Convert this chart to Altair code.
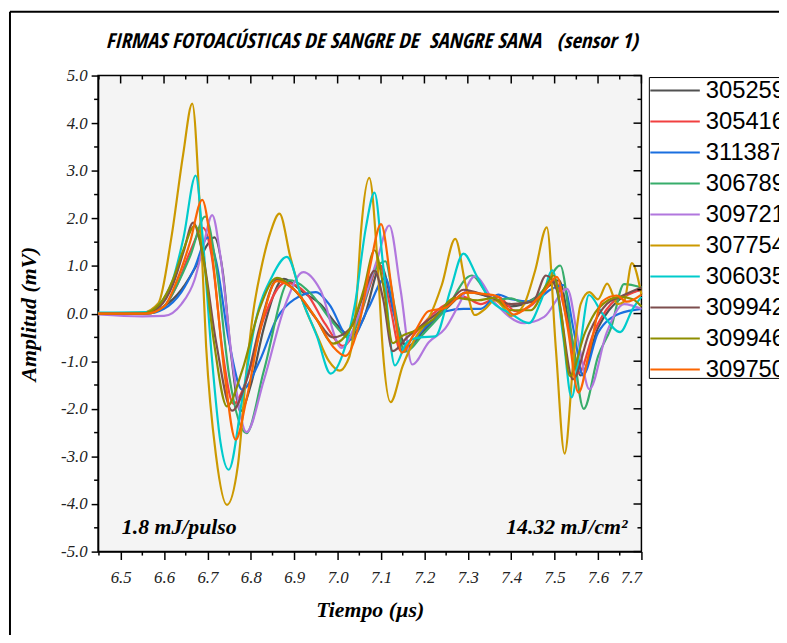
import altair as alt
import pandas as pd

series = ["305259", "305416", "311387", "306789", "309721",
          "307754", "306035", "309942", "309946", "309750"]
colors = ["#515151", "#F14040", "#1A6FDF", "#37AD6B", "#B177DE",
          "#CC9900", "#00CBCC", "#7D4E4E", "#8E8E00", "#FB6501"]

t_305259 = [6.448, 6.55, 6.60, 6.64, 6.68, 6.70, 6.716, 6.735, 6.755, 6.776, 6.80, 6.83, 6.876, 6.92, 6.96, 7.00, 7.03, 7.06, 7.10, 7.13, 7.16, 7.20, 7.25, 7.30, 7.35, 7.40, 7.45, 7.49, 7.51, 7.535, 7.56, 7.60, 7.65, 7.70]
v_305259 = [0, 0, 0.15, 0.5, 1.1, 1.45, 1.6, 0.9, -0.9, -2.05, -1.5, -0.3, 0.73, 0.45, 0.2, -0.25, -0.48, -0.1, 1.0, 0.0, -0.7, -0.35, 0.1, 0.45, 0.35, 0.15, 0.3, 0.6, 0.7, -0.3, -1.3, -0.3, 0.3, 0.5]

t_305416 = [6.448, 6.56, 6.60, 6.63, 6.66, 6.69, 6.71, 6.735, 6.76, 6.79, 6.83, 6.88, 6.93, 6.97, 7.013, 7.05, 7.075, 7.095, 7.12, 7.145, 7.18, 7.22, 7.26, 7.29, 7.33, 7.37, 7.41, 7.45, 7.48, 7.50, 7.53, 7.555, 7.59, 7.63, 7.67, 7.70]
v_305416 = [0, 0, 0.15, 0.6, 1.3, 1.8, 1.2, -0.8, -1.9, -1.4, -0.1, 0.65, 0.4, -0.2, -0.68, -0.1, 0.6, 1.05, 0.2, -0.78, -0.4, 0.0, 0.25, 0.35, 0.2, 0.35, 0.05, 0.2, 0.55, 0.7, -0.2, -1.25, -0.4, 0.2, 0.4, 0.5]

t_311387 = [6.448, 6.56, 6.60, 6.64, 6.67, 6.701, 6.72, 6.75, 6.78, 6.82, 6.86, 6.90, 6.95, 6.98, 7.03, 7.07, 7.11, 7.13, 7.15, 7.20, 7.25, 7.29, 7.33, 7.37, 7.40, 7.45, 7.49, 7.52, 7.545, 7.565, 7.60, 7.65, 7.70]
v_311387 = [0, 0, 0.1, 0.45, 0.95, 1.6, 1.1, -0.6, -1.6, -1.0, -0.1, 0.3, 0.45, 0.2, -0.55, 0.1, 0.75, 0.0, -0.8, -0.3, 0.05, 0.1, 0.1, 0.4, 0.3, 0.25, 0.5, 0.6, -0.4, -1.3, -0.4, 0.0, 0.1]

t_306789 = [6.448, 6.56, 6.60, 6.63, 6.66, 6.695, 6.72, 6.75, 6.79, 6.83, 6.89, 6.94, 6.99, 7.026, 7.06, 7.085, 7.11, 7.13, 7.155, 7.20, 7.25, 7.309, 7.36, 7.40, 7.43, 7.47, 7.513, 7.54, 7.567, 7.60, 7.63, 7.66, 7.70]
v_306789 = [0, 0, 0.15, 0.6, 1.2, 2.04, 1.0, -1.3, -2.51, -1.2, 0.7, 0.4, -0.2, -0.51, 0.2, 0.9, 1.1, 0.2, -0.8, -0.4, 0.1, 0.8, 0.28, 0.32, 0.22, 0.45, 1.01, -0.5, -2.0, -0.9, -0.3, 0.62, 0.55]

t_309721 = [6.448, 6.55, 6.60, 6.64, 6.67, 6.69, 6.711, 6.73, 6.76, 6.79, 6.83, 6.88, 6.921, 6.96, 7.009, 7.05, 7.09, 7.119, 7.145, 7.172, 7.21, 7.248, 7.28, 7.316, 7.362, 7.43, 7.476, 7.529, 7.555, 7.58, 7.62, 7.66, 7.70]
v_309721 = [-0.02, -0.06, -0.05, 0.2, 0.7, 1.4, 2.07, 1.2, -1.2, -2.49, -1.4, 0.2, 0.87, 0.5, -0.72, 0.0, 1.1, 1.85, 0.5, -1.07, -0.6, -0.31, 0.2, 0.78, 0.23, -0.2, -0.07, 0.52, -0.6, -1.59, -0.4, 0.2, 0.1]

t_307754 = [6.448, 6.55, 6.587, 6.617, 6.644, 6.665, 6.682, 6.697, 6.72, 6.745, 6.77, 6.79, 6.805, 6.823, 6.845, 6.866, 6.891, 6.921, 6.95, 6.98, 7.005, 7.02, 7.031, 7.043, 7.054, 7.073, 7.093, 7.104, 7.122, 7.15, 7.18, 7.21, 7.24, 7.271, 7.295, 7.316, 7.34, 7.362, 7.38, 7.40, 7.43, 7.455, 7.482, 7.503, 7.523, 7.545, 7.56, 7.58, 7.60, 7.621, 7.645, 7.66, 7.678, 7.70]
v_307754 = [0, 0.02, 0.22, 1.6, 3.34, 4.41, 2.3, -0.69, -3.0, -4.02, -3.2, -1.2, 0.0, 0.91, 1.7, 2.1, 1.19, 0.22, -0.4, -1.0, -1.2, -1.05, -0.76, 0.2, 1.74, 2.85, 0.91, -0.76, -1.86, -1.1, -0.5, -0.1, 0.6, 1.57, 0.6, -0.03, 0.1, 0.28, 0.15, -0.05, 0.2, 0.9, 1.81, -0.76, -2.94, -0.8, 0.2, 0.45, 0.3, 0.63, 0.2, 0.25, 1.06, 0.4]

t_306035 = [6.448, 6.56, 6.59, 6.62, 6.645, 6.673, 6.689, 6.71, 6.73, 6.749, 6.78, 6.81, 6.85, 6.883, 6.921, 6.952, 6.984, 7.01, 7.04, 7.065, 7.085, 7.105, 7.132, 7.16, 7.19, 7.225, 7.26, 7.29, 7.32, 7.35, 7.399, 7.441, 7.47, 7.495, 7.52, 7.539, 7.56, 7.579, 7.61, 7.651, 7.68, 7.70]
v_306035 = [0.02, 0.03, 0.2, 0.7, 1.6, 2.9, 1.6, -0.9, -2.7, -3.28, -1.8, -0.2, 0.8, 1.19, 0.22, -0.47, -1.26, -0.9, 0.2, 1.8, 2.54, 1.0, -1.09, -0.6, -0.5, -0.48, 0.5, 1.26, 0.8, 0.31, 0.0, -0.2, 0.3, 0.91, -0.5, -1.76, -0.6, 0.39, 0.0, -0.39, 0.1, 0.35]

t_309942 = [6.448, 6.55, 6.59, 6.62, 6.645, 6.667, 6.69, 6.72, 6.757, 6.79, 6.82, 6.861, 6.90, 6.95, 6.99, 7.03, 7.06, 7.085, 7.105, 7.127, 7.16, 7.20, 7.25, 7.29, 7.35, 7.40, 7.45, 7.48, 7.505, 7.542, 7.58, 7.62, 7.65, 7.70]
v_309942 = [0, 0.0, 0.15, 0.6, 1.3, 1.91, 1.2, -0.6, -2.04, -1.4, -0.3, 0.72, 0.5, -0.1, -0.5, -0.3, 0.4, 0.9, 0.3, -0.79, -0.5, -0.2, 0.15, 0.5, 0.35, 0.2, 0.25, 0.8, 0.5, -1.38, -0.4, 0.2, 0.35, 0.55]

t_309946 = [6.448, 6.55, 6.59, 6.62, 6.645, 6.671, 6.69, 6.715, 6.745, 6.78, 6.82, 6.86, 6.90, 6.95, 6.99, 7.03, 7.06, 7.085, 7.105, 7.127, 7.147, 7.181, 7.22, 7.271, 7.323, 7.36, 7.399, 7.445, 7.483, 7.498, 7.515, 7.535, 7.57, 7.60, 7.65, 7.68, 7.70]
v_309946 = [0, 0.0, 0.2, 0.7, 1.35, 1.85, 1.2, -0.6, -1.95, -1.2, 0.1, 0.75, 0.5, -0.1, -0.63, -0.3, 0.5, 1.33, 0.6, -0.62, -0.48, -0.35, -0.12, 0.33, 0.28, 0.33, 0.07, 0.07, 0.63, 0.8, 0.0, -1.31, -0.4, 0.1, 0.35, 0.3, 0.15]

t_309750 = [6.448, 6.56, 6.60, 6.63, 6.66, 6.688, 6.71, 6.74, 6.765, 6.79, 6.82, 6.86, 6.90, 6.95, 6.99, 7.018, 7.05, 7.075, 7.10, 7.125, 7.148, 7.18, 7.209, 7.248, 7.295, 7.34, 7.367, 7.406, 7.444, 7.475, 7.505, 7.53, 7.555, 7.58, 7.609, 7.643, 7.666, 7.70]
v_309750 = [0, 0, 0.15, 0.7, 1.5, 2.39, 1.3, -1.3, -2.65, -1.8, -0.4, 0.68, 0.5, -0.1, -0.7, -0.89, -0.2, 1.0, 1.88, 0.5, -0.82, -0.35, 0.05, 0.12, 0.44, 0.41, 0.37, -0.02, 0.18, 0.45, 0.77, -0.3, -1.66, -0.8, 0.25, 0.38, 0.25, 0.4]

x_major = [6.5, 6.6, 6.7, 6.8, 6.9, 7.0, 7.1, 7.2, 7.3, 7.4, 7.5, 7.6, 7.7]
x_minor = [6.45, 6.55, 6.65, 6.75, 6.85, 6.95, 7.05, 7.15, 7.25, 7.35, 7.45, 7.55, 7.65]
y_major = [-5, -4, -3, -2, -1, 0, 1, 2, 3, 4, 5]
y_minor = [-4.5, -3.5, -2.5, -1.5, -0.5, 0.5, 1.5, 2.5, 3.5, 4.5]

title_text = "FIRMAS FOTOACÚSTICAS DE SANGRE DE \u00a0SANGRE SANA \u00a0 (sensor 1)"
x_title = "Tiempo (µs)"
y_title = "Amplitud (mV)"
note_left = "1.8 mJ/pulso"
note_right = "14.32 mJ/cm\u00b2"

times = {s: globals()["t_" + s] for s in series}
vals = {s: globals()["v_" + s] for s in series}
rows = []
for s in series:
    for t, v in zip(times[s], vals[s]):
        rows.append({"t": t, "v": v, "muestra": s})
df = pd.DataFrame(rows)

W, H = 549, 481
xs = alt.Scale(domain=[6.448, 7.7], nice=False, zero=False)
ys = alt.Scale(domain=[-5, 5], nice=False)
serif = "Liberation Serif"

ax_x = alt.Axis(values=x_major, format=".1f", title=x_title,
                labelFont=serif, labelFontStyle="italic", labelFontSize=17,
                labelColor="#222", tickSize=8, tickWidth=1.5, tickColor="black",
                domainColor="black", domainWidth=1.5, labelPadding=10,
                titleFont=serif, titleFontStyle="italic", titleFontWeight="bold",
                titleFontSize=22, titlePadding=15, titleColor="black", grid=False)
ax_y = alt.Axis(values=y_major, title=y_title,
                labelExpr="replace(format(datum.value, '.1f'), '\u2212', '-')",
                labelFont=serif, labelFontStyle="italic", labelFontSize=17,
                labelColor="#222", tickSize=7, tickWidth=1.5, tickColor="black",
                domainColor="black", domainWidth=1.5, labelPadding=4,
                titleFont=serif, titleFontStyle="italic", titleFontWeight="bold",
                titleFontSize=22, titlePadding=20, titleColor="black", grid=False)

lines = alt.Chart(df).mark_line(interpolate="monotone", strokeWidth=2.2).encode(
    x=alt.X("t:Q", scale=xs, axis=ax_x),
    y=alt.Y("v:Q", scale=ys, axis=ax_y),
    color=alt.Color("muestra:N", sort=series,
                    scale=alt.Scale(domain=series, range=colors), legend=None),
)

dxM = pd.DataFrame({"t": x_major})
dxm = pd.DataFrame({"t": x_minor})
dyM = pd.DataFrame({"v": y_major})
dym = pd.DataFrame({"v": y_minor})

def xrule(d, y1, y2):
    return alt.Chart(d).mark_rule(color="black", strokeWidth=1.5).encode(
        x=alt.X("t:Q", scale=xs, axis=ax_x), y=alt.value(y1), y2=alt.value(y2))

def yrule(d, x1, x2):
    return alt.Chart(d).mark_rule(color="black", strokeWidth=1.5).encode(
        y=alt.Y("v:Q", scale=ys, axis=ax_y), x=alt.value(x1), x2=alt.value(x2))

ticks = [
    xrule(dxM, 0, 8), xrule(dxm, 0, 4), xrule(dxm, H, H + 4),
    yrule(dyM, W, W - 8), yrule(dym, W, W - 4), yrule(dym, 0, -4),
]

one = pd.DataFrame({"k": [0]})
border_left = alt.Chart(one).mark_rule(color="black", strokeWidth=2).encode(
    x=alt.value(-89), y=alt.value(-64.5), y2=alt.value(H + 90))
border_top = alt.Chart(one).mark_rule(color="black", strokeWidth=2).encode(
    x=alt.value(-89), x2=alt.value(W + 160), y=alt.value(-64.5))

title_font = ("Open Sans Condensed, Noto Sans Condensed, "
              "Roboto Condensed, Liberation Sans Narrow, sans-serif")
title_mark = alt.Chart(pd.DataFrame({"label": [title_text]})).mark_text(
    font=title_font, fontSize=21,
    fontStyle="italic", fontWeight="bold", color="black", align="center",
    baseline="middle").encode(text="label:N", x=alt.value(W / 2 + 2), y=alt.value(-34))

n1 = alt.Chart(pd.DataFrame({"label": [note_left]})).mark_text(
    font=serif, fontStyle="italic", fontWeight="bold", fontSize=22, align="left",
    baseline="middle", color="black").encode(text="label:N", x=alt.value(24), y=alt.value(456))
n2 = alt.Chart(pd.DataFrame({"label": [note_right]})).mark_text(
    font=serif, fontStyle="italic", fontWeight="bold", fontSize=22, align="right",
    baseline="middle", color="black").encode(text="label:N", x=alt.value(535), y=alt.value(456))

# legend drawn as marks
leg_box = alt.Chart(one).mark_rect(fill="white", stroke="black", strokeWidth=1).encode(
    x=alt.value(557), x2=alt.value(W + 200), y=alt.value(2), y2=alt.value(306))
leg_layers = []
for i, (s, c) in enumerate(zip(series, colors)):
    yy = 15 + i * 31.33
    d = pd.DataFrame({"muestra": [s]})
    leg_layers.append(alt.Chart(d).mark_rule(color=c, strokeWidth=2).encode(
        x=alt.value(558), x2=alt.value(608), y=alt.value(yy)))
    leg_layers.append(alt.Chart(d).mark_text(
        font="Liberation Sans", fontSize=24, align="left", baseline="middle",
        color="black").encode(text="muestra:N", x=alt.value(614), y=alt.value(yy + 1)))

chart = alt.layer(lines, *ticks, n1, n2, title_mark, leg_box, *leg_layers,
                  border_left, border_top).properties(
    width=W, height=H,
    autosize=alt.AutoSizeParams(type="none"),
    padding={"left": 91, "top": 65, "right": 139, "bottom": 81},
).configure_view(stroke="black", strokeWidth=1.5, fill="#f4f4f4").configure_axis(grid=False)

chart = chart.properties(background="white")
chart.save("out.html", embed_options={"renderer": "svg", "actions": False})
